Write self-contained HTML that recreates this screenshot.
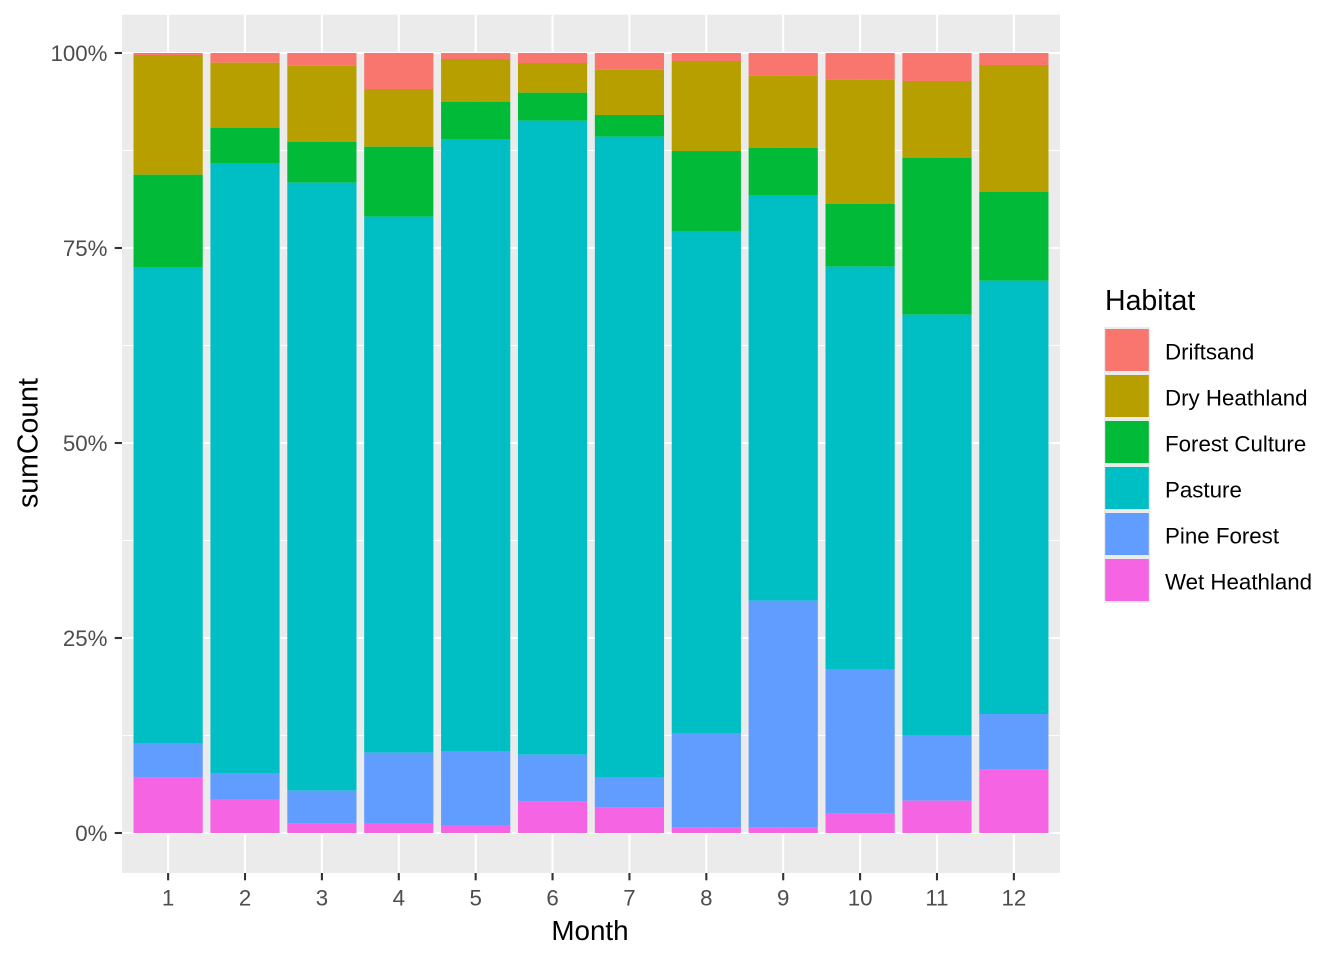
<!DOCTYPE html>
<html>
<head>
<meta charset="utf-8">
<style>
html,body{margin:0;padding:0;background:#fff;}
svg{display:block;}
text{font-family:"Liberation Sans",Arial,sans-serif;}
</style>
</head>
<body>
<svg width="1344" height="960" viewBox="0 0 1344 960" xmlns="http://www.w3.org/2000/svg">
<rect x="0" y="0" width="1344" height="960" fill="#ffffff"/>
<!-- panel -->
<rect x="122" y="14.7" width="938" height="858.3" fill="#EBEBEB"/>
<!-- minor grid -->
<g stroke="#ffffff" stroke-width="1.1">
<line x1="122" x2="1060" y1="150.5" y2="150.5"/>
<line x1="122" x2="1060" y1="345.5" y2="345.5"/>
<line x1="122" x2="1060" y1="540.5" y2="540.5"/>
<line x1="122" x2="1060" y1="735.5" y2="735.5"/>
</g>
<!-- major grid -->
<g stroke="#ffffff" stroke-width="2.1">
<line x1="122" x2="1060" y1="53" y2="53"/>
<line x1="122" x2="1060" y1="248" y2="248"/>
<line x1="122" x2="1060" y1="443" y2="443"/>
<line x1="122" x2="1060" y1="638" y2="638"/>
<line x1="122" x2="1060" y1="833" y2="833"/>
<line x1="168.13" x2="168.13" y1="14.7" y2="873"/>
<line x1="245.02" x2="245.02" y1="14.7" y2="873"/>
<line x1="321.90" x2="321.90" y1="14.7" y2="873"/>
<line x1="398.79" x2="398.79" y1="14.7" y2="873"/>
<line x1="475.67" x2="475.67" y1="14.7" y2="873"/>
<line x1="552.56" x2="552.56" y1="14.7" y2="873"/>
<line x1="629.44" x2="629.44" y1="14.7" y2="873"/>
<line x1="706.33" x2="706.33" y1="14.7" y2="873"/>
<line x1="783.21" x2="783.21" y1="14.7" y2="873"/>
<line x1="860.10" x2="860.10" y1="14.7" y2="873"/>
<line x1="936.98" x2="936.98" y1="14.7" y2="873"/>
<line x1="1013.87" x2="1013.87" y1="14.7" y2="873"/>
</g>
<!-- bars -->
<g id="bars">
<g transform="translate(133.53,0)">
<rect x="0" width="69.2" y="53" height="2" fill="#F8766D"/>
<rect x="0" width="69.2" y="55" height="119.7" fill="#B79F00"/>
<rect x="0" width="69.2" y="174.7" height="93" fill="#00BA38"/>
<rect x="0" width="69.2" y="267.7" height="475.3" fill="#00BFC4"/>
<rect x="0" width="69.2" y="743" height="34.7" fill="#619CFF"/>
<rect x="0" width="69.2" y="777.7" height="55.3" fill="#F564E3"/>
</g>
<g transform="translate(210.42,0)">
<rect x="0" width="69.2" y="53" height="9.7" fill="#F8766D"/>
<rect x="0" width="69.2" y="62.7" height="65" fill="#B79F00"/>
<rect x="0" width="69.2" y="127.7" height="36" fill="#00BA38"/>
<rect x="0" width="69.2" y="163.7" height="610" fill="#00BFC4"/>
<rect x="0" width="69.2" y="773.7" height="25.3" fill="#619CFF"/>
<rect x="0" width="69.2" y="799" height="34" fill="#F564E3"/>
</g>
<g transform="translate(287.30,0)">
<rect x="0" width="69.2" y="53" height="12.7" fill="#F8766D"/>
<rect x="0" width="69.2" y="65.7" height="76" fill="#B79F00"/>
<rect x="0" width="69.2" y="141.7" height="41" fill="#00BA38"/>
<rect x="0" width="69.2" y="182.7" height="608" fill="#00BFC4"/>
<rect x="0" width="69.2" y="790.7" height="33" fill="#619CFF"/>
<rect x="0" width="69.2" y="823.7" height="9.3" fill="#F564E3"/>
</g>
<g transform="translate(364.19,0)">
<rect x="0" width="69.2" y="53" height="36" fill="#F8766D"/>
<rect x="0" width="69.2" y="89" height="57.7" fill="#B79F00"/>
<rect x="0" width="69.2" y="146.7" height="70" fill="#00BA38"/>
<rect x="0" width="69.2" y="216.7" height="536" fill="#00BFC4"/>
<rect x="0" width="69.2" y="752.7" height="70.3" fill="#619CFF"/>
<rect x="0" width="69.2" y="823" height="10" fill="#F564E3"/>
</g>
<g transform="translate(441.07,0)">
<rect x="0" width="69.2" y="53" height="6" fill="#F8766D"/>
<rect x="0" width="69.2" y="59" height="42.7" fill="#B79F00"/>
<rect x="0" width="69.2" y="101.7" height="38" fill="#00BA38"/>
<rect x="0" width="69.2" y="139.7" height="611.3" fill="#00BFC4"/>
<rect x="0" width="69.2" y="751" height="74" fill="#619CFF"/>
<rect x="0" width="69.2" y="825" height="8" fill="#F564E3"/>
</g>
<g transform="translate(517.96,0)">
<rect x="0" width="69.2" y="53" height="10" fill="#F8766D"/>
<rect x="0" width="69.2" y="63" height="29.7" fill="#B79F00"/>
<rect x="0" width="69.2" y="92.7" height="28" fill="#00BA38"/>
<rect x="0" width="69.2" y="120.7" height="634" fill="#00BFC4"/>
<rect x="0" width="69.2" y="754.7" height="47" fill="#619CFF"/>
<rect x="0" width="69.2" y="801.7" height="31.3" fill="#F564E3"/>
</g>
<g transform="translate(594.84,0)">
<rect x="0" width="69.2" y="53" height="16.7" fill="#F8766D"/>
<rect x="0" width="69.2" y="69.7" height="45.3" fill="#B79F00"/>
<rect x="0" width="69.2" y="115" height="21.7" fill="#00BA38"/>
<rect x="0" width="69.2" y="136.7" height="640.3" fill="#00BFC4"/>
<rect x="0" width="69.2" y="777" height="30.7" fill="#619CFF"/>
<rect x="0" width="69.2" y="807.7" height="25.3" fill="#F564E3"/>
</g>
<g transform="translate(671.73,0)">
<rect x="0" width="69.2" y="53" height="8" fill="#F8766D"/>
<rect x="0" width="69.2" y="61" height="90" fill="#B79F00"/>
<rect x="0" width="69.2" y="151" height="80.7" fill="#00BA38"/>
<rect x="0" width="69.2" y="231.7" height="501.3" fill="#00BFC4"/>
<rect x="0" width="69.2" y="733" height="94.7" fill="#619CFF"/>
<rect x="0" width="69.2" y="827.7" height="5.3" fill="#F564E3"/>
</g>
<g transform="translate(748.61,0)">
<rect x="0" width="69.2" y="53" height="22.7" fill="#F8766D"/>
<rect x="0" width="69.2" y="75.7" height="72" fill="#B79F00"/>
<rect x="0" width="69.2" y="147.7" height="48" fill="#00BA38"/>
<rect x="0" width="69.2" y="195.7" height="405" fill="#00BFC4"/>
<rect x="0" width="69.2" y="600.7" height="227" fill="#619CFF"/>
<rect x="0" width="69.2" y="827.7" height="5.3" fill="#F564E3"/>
</g>
<g transform="translate(825.50,0)">
<rect x="0" width="69.2" y="53" height="26.7" fill="#F8766D"/>
<rect x="0" width="69.2" y="79.7" height="124" fill="#B79F00"/>
<rect x="0" width="69.2" y="203.7" height="63" fill="#00BA38"/>
<rect x="0" width="69.2" y="266.7" height="402.3" fill="#00BFC4"/>
<rect x="0" width="69.2" y="669" height="144.7" fill="#619CFF"/>
<rect x="0" width="69.2" y="813.7" height="19.3" fill="#F564E3"/>
</g>
<g transform="translate(902.38,0)">
<rect x="0" width="69.2" y="53" height="28" fill="#F8766D"/>
<rect x="0" width="69.2" y="81" height="76.7" fill="#B79F00"/>
<rect x="0" width="69.2" y="157.7" height="157" fill="#00BA38"/>
<rect x="0" width="69.2" y="314.7" height="420.3" fill="#00BFC4"/>
<rect x="0" width="69.2" y="735" height="65.7" fill="#619CFF"/>
<rect x="0" width="69.2" y="800.7" height="32.3" fill="#F564E3"/>
</g>
<g transform="translate(979.27,0)">
<rect x="0" width="69.2" y="53" height="12" fill="#F8766D"/>
<rect x="0" width="69.2" y="65" height="126.7" fill="#B79F00"/>
<rect x="0" width="69.2" y="191.7" height="89" fill="#00BA38"/>
<rect x="0" width="69.2" y="280.7" height="433.3" fill="#00BFC4"/>
<rect x="0" width="69.2" y="714" height="55.7" fill="#619CFF"/>
<rect x="0" width="69.2" y="769.7" height="63.3" fill="#F564E3"/>
</g>
</g>
<!-- y ticks -->
<g stroke="#333333" stroke-width="2.1">
<line x1="114.7" x2="122" y1="53" y2="53"/>
<line x1="114.7" x2="122" y1="248" y2="248"/>
<line x1="114.7" x2="122" y1="443" y2="443"/>
<line x1="114.7" x2="122" y1="638" y2="638"/>
<line x1="114.7" x2="122" y1="833" y2="833"/>
</g>
<g font-size="22.3" fill="#4D4D4D" text-anchor="end">
<text x="107.5" y="61">100%</text>
<text x="107.5" y="256">75%</text>
<text x="107.5" y="451">50%</text>
<text x="107.5" y="646">25%</text>
<text x="107.5" y="841">0%</text>
</g>
<!-- x ticks -->
<g stroke="#333333" stroke-width="2.1">
<line x1="168.13" x2="168.13" y1="873" y2="880.3"/>
<line x1="245.02" x2="245.02" y1="873" y2="880.3"/>
<line x1="321.90" x2="321.90" y1="873" y2="880.3"/>
<line x1="398.79" x2="398.79" y1="873" y2="880.3"/>
<line x1="475.67" x2="475.67" y1="873" y2="880.3"/>
<line x1="552.56" x2="552.56" y1="873" y2="880.3"/>
<line x1="629.44" x2="629.44" y1="873" y2="880.3"/>
<line x1="706.33" x2="706.33" y1="873" y2="880.3"/>
<line x1="783.21" x2="783.21" y1="873" y2="880.3"/>
<line x1="860.10" x2="860.10" y1="873" y2="880.3"/>
<line x1="936.98" x2="936.98" y1="873" y2="880.3"/>
<line x1="1013.87" x2="1013.87" y1="873" y2="880.3"/>
</g>
<g font-size="22.3" fill="#4D4D4D" text-anchor="middle">
<text x="168.13" y="905.5">1</text>
<text x="245.02" y="905.5">2</text>
<text x="321.90" y="905.5">3</text>
<text x="398.79" y="905.5">4</text>
<text x="475.67" y="905.5">5</text>
<text x="552.56" y="905.5">6</text>
<text x="629.44" y="905.5">7</text>
<text x="706.33" y="905.5">8</text>
<text x="783.21" y="905.5">9</text>
<text x="860.10" y="905.5">10</text>
<text x="936.98" y="905.5">11</text>
<text x="1013.87" y="905.5">12</text>
</g>
<!-- axis titles -->
<text x="590" y="940" font-size="27.8" fill="#000" text-anchor="middle">Month</text>
<text transform="translate(37.5,443) rotate(-90)" font-size="28.5" fill="#000" text-anchor="middle">sumCount</text>
<!-- legend -->
<text x="1105" y="310" font-size="28.5" fill="#000">Habitat</text>
<rect x="1104" y="327" width="46" height="276" fill="#EBEBEB"/>
<rect x="1105.2" y="329" width="43.6" height="42" fill="#F8766D"/>
<rect x="1105.2" y="375" width="43.6" height="42" fill="#B79F00"/>
<rect x="1105.2" y="421" width="43.6" height="42" fill="#00BA38"/>
<rect x="1105.2" y="467" width="43.6" height="42" fill="#00BFC4"/>
<rect x="1105.2" y="513" width="43.6" height="42" fill="#619CFF"/>
<rect x="1105.2" y="559" width="43.6" height="42" fill="#F564E3"/>
<g font-size="22.3" fill="#000">
<text x="1165" y="359.5">Driftsand</text>
<text x="1165" y="405.5">Dry Heathland</text>
<text x="1165" y="451.5">Forest Culture</text>
<text x="1165" y="497.5">Pasture</text>
<text x="1165" y="543.5">Pine Forest</text>
<text x="1165" y="589.5">Wet Heathland</text>
</g>
</svg>
</body>
</html>
